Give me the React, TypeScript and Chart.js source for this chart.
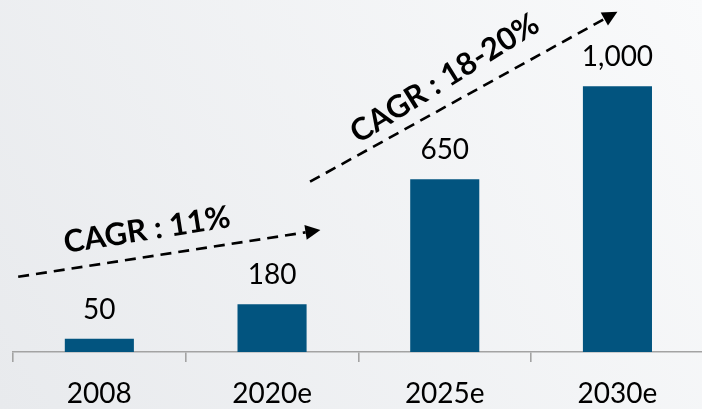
import React, { useEffect, useRef } from "react";
import { Chart, registerables } from "chart.js";

Chart.register(...registerables);

const categories = ["2008", "2020e", "2025e", "2030e"];
const values = [50, 180, 650, 1000];
const valueLabels = ["50", "180", "650", "1,000"];
const cagrLabels = ["CAGR : 11%", "CAGR : 18-20%"];

// annotation anchors expressed in chart data units (category index, value)
const annotationConfig = {
  arrows: [
    { from: [-0.47, 283], to: [1.28, 459] },
    { from: [1.22, 641], to: [3.0, 1281] },
  ],
  texts: [
    { at: [0.276, 459], angle: 9 },
    { at: [2.0, 1030], angle: 32 },
  ],
};

const bgPlugin = {
  id: "bgGradient",
  beforeDraw(chart: any) {
    const { ctx, width, height } = chart;
    ctx.save();
    const g = ctx.createLinearGradient(0, height, width, 0);
    g.addColorStop(0, "#E8EAED");
    g.addColorStop(1, "#F9FAFB");
    ctx.fillStyle = g;
    ctx.fillRect(0, 0, width, height);
    ctx.restore();
  },
};

const labelPlugin = {
  id: "labelsAndArrows",
  afterDatasetsDraw(chart: any) {
    const { ctx } = chart;
    const xs = chart.scales.x;
    const ys = chart.scales.y;
    const meta = chart.getDatasetMeta(0);
    ctx.save();
    ctx.fillStyle = "#000";
    ctx.font = "28px Lato";
    ctx.textAlign = "center";
    ctx.textBaseline = "alphabetic";
    meta.data.forEach((bar: any, i: number) => {
      ctx.fillText(valueLabels[i], bar.x, bar.y - 20);
    });

    // dashed arrows
    annotationConfig.arrows.forEach((a) => {
      const x1 = xs.getPixelForValue(a.from[0]);
      const y1 = ys.getPixelForValue(a.from[1]);
      const x2 = xs.getPixelForValue(a.to[0]);
      const y2 = ys.getPixelForValue(a.to[1]);
      const ang = Math.atan2(y2 - y1, x2 - x1);
      const headLen = 15;
      const headHalf = 7.5;
      const bx = x2 - headLen * Math.cos(ang);
      const by = y2 - headLen * Math.sin(ang);
      ctx.strokeStyle = "#000";
      ctx.lineWidth = 2.6;
      ctx.setLineDash([11, 7]);
      ctx.beginPath();
      ctx.moveTo(x1, y1);
      ctx.lineTo(bx, by);
      ctx.stroke();
      ctx.setLineDash([]);
      ctx.fillStyle = "#000";
      ctx.beginPath();
      ctx.moveTo(x2, y2);
      ctx.lineTo(bx + headHalf * Math.sin(ang), by - headHalf * Math.cos(ang));
      ctx.lineTo(bx - headHalf * Math.sin(ang), by + headHalf * Math.cos(ang));
      ctx.closePath();
      ctx.fill();
    });

    // rotated CAGR texts
    ctx.font = "bold 31px Lato";
    ctx.textAlign = "center";
    ctx.textBaseline = "middle";
    annotationConfig.texts.forEach((t, i) => {
      const x = xs.getPixelForValue(t.at[0]);
      const y = ys.getPixelForValue(t.at[1]);
      ctx.save();
      ctx.translate(x, y);
      ctx.rotate((-t.angle * Math.PI) / 180);
      ctx.fillText(cagrLabels[i], 0, 0);
      ctx.restore();
    });
    ctx.restore();
  },
};

export default function App() {
  const ref = useRef<HTMLCanvasElement | null>(null);
  useEffect(() => {
    if (!ref.current) return;
    const chart = new Chart(ref.current, {
      type: "bar",
      data: {
        labels: categories,
        datasets: [
          {
            data: values,
            backgroundColor: "#02547F",
            borderWidth: 0,
            barPercentage: 0.4,
            categoryPercentage: 1,
          },
        ],
      },
      options: {
        animation: false,
        responsive: false,
        devicePixelRatio: 1,
        layout: { padding: { left: 13, right: 1.2, top: 0, bottom: 0 } },
        plugins: {
          legend: { display: false },
          tooltip: { enabled: false },
        },
        scales: {
          x: {
            afterFit(scale: any) {
              scale.height = 57;
            },
            grid: {
              display: true,
              drawOnChartArea: false,
              drawTicks: true,
              tickLength: 10,
              color: "#A3A3A3",
              lineWidth: 1.6,
            },
            border: { display: true, color: "#A3A3A3", width: 1.6 },
            ticks: {
              color: "#000",
              font: { family: "Lato", size: 28 },
              padding: 15,
            },
          },
          y: {
            display: false,
            min: 0,
            max: 1325,
          },
        },
      },
      plugins: [bgPlugin, labelPlugin],
    });
    return () => chart.destroy();
  }, []);
  return (
    <div
      style={{
        position: "fixed",
        left: 0,
        top: 0,
        width: 702,
        height: 409,
        overflow: "hidden",
        background: "#F0F1F3",
      }}
    >
      <canvas ref={ref} width={705} height={409} style={{ display: "block" }} />
    </div>
  );
}
